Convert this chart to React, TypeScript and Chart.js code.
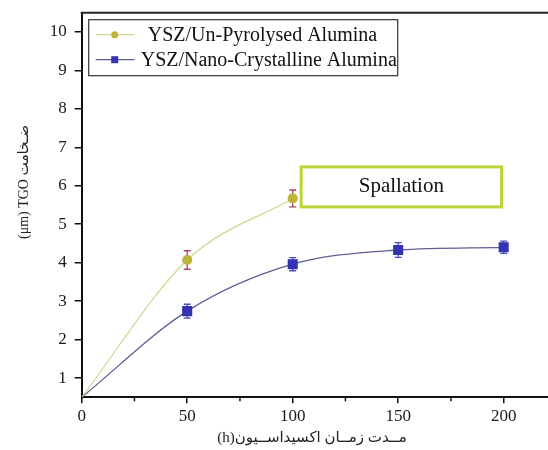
import React, { useEffect, useRef } from 'react';
import { Chart, registerables } from 'chart.js';

Chart.register(...registerables);

// ---- data ----
const hours = [0, 50, 100, 150, 200];
const unPyrolysedTGO = [0.5, 4.07, 5.67];
const unPyrolysedErr = [0, 0.24, 0.22];
const nanoTGO = [0.5, 2.74, 3.96, 4.33, 4.4];
const nanoErr = [0, 0.18, 0.17, 0.19, 0.16];
const seriesLabels = ['YSZ/Un-Pyrolysed Alumina', 'YSZ/Nano-Crystalline Alumina'];
const xTicks = [0, 50, 100, 150, 200];
const xMinorTicks = [25, 75, 125, 175];
const yTicks = [1, 2, 3, 4, 5, 6, 7, 8, 9, 10];
const xTitle = '(h)مــدت زمــان اکسیداســیون';
const yTitle = '(μm) TGO ضـخامت';
const spallationText = 'Spallation';

const SERIF = "'Liberation Serif', 'Times New Roman', serif";
const TITLE_FONT = "'Liberation Serif', 'DejaVu Sans', serif";

const YEL_LINE = '#d3d68f';
const YEL_PT = '#bdb53b';
const YEL_ERR = '#a24a5e';
const BLUE_LINE = '#5e5e96';
const BLUE_PT = '#3434b2';
const BLUE_ERR = '#4c4cba';

const errs = [unPyrolysedErr, nanoErr];
const errColors = [YEL_ERR, BLUE_ERR];

const decorPlugin = {
  id: 'decor',
  beforeDatasetsDraw(chart: any) {
    const ctx = chart.ctx;
    const xs = chart.scales.x;
    const ys = chart.scales.y;
    ctx.save();
    chart.data.datasets.forEach((ds: any, i: number) => {
      const e = errs[i];
      ctx.strokeStyle = errColors[i];
      ctx.lineWidth = 1.3;
      ds.data.forEach((p: any, j: number) => {
        if (!e[j]) return;
        const px = xs.getPixelForValue(p.x);
        const top = ys.getPixelForValue(p.y + e[j]);
        const bot = ys.getPixelForValue(p.y - e[j]);
        ctx.beginPath();
        ctx.moveTo(px, top);
        ctx.lineTo(px, bot);
        ctx.moveTo(px - 3.5, top);
        ctx.lineTo(px + 3.5, top);
        ctx.moveTo(px - 3.5, bot);
        ctx.lineTo(px + 3.5, bot);
        ctx.stroke();
      });
    });
    ctx.restore();
  },
  afterDraw(chart: any) {
    const ctx = chart.ctx;
    const xs = chart.scales.x;
    const ys = chart.scales.y;
    const ca = chart.chartArea;
    ctx.save();
    // top frame line
    ctx.strokeStyle = '#222';
    ctx.lineWidth = 2;
    ctx.beginPath();
    ctx.moveTo(ca.left - 1, ca.top);
    ctx.lineTo(chart.width, ca.top);
    ctx.stroke();
    // minor x ticks
    ctx.lineWidth = 1.5;
    ctx.strokeStyle = '#111';
    xMinorTicks.forEach((v) => {
      const px = xs.getPixelForValue(v);
      ctx.beginPath();
      ctx.moveTo(px, ca.bottom);
      ctx.lineTo(px, ca.bottom + 4);
      ctx.stroke();
    });

    // Spallation annotation box
    const bx0 = xs.getPixelForValue(104);
    const bx1 = xs.getPixelForValue(199);
    const by0 = ys.getPixelForValue(6.49);
    const by1 = ys.getPixelForValue(5.45);
    ctx.fillStyle = '#ffffff';
    ctx.fillRect(bx0, by0, bx1 - bx0, by1 - by0);
    ctx.strokeStyle = '#bdd534';
    ctx.lineWidth = 3;
    ctx.strokeRect(bx0, by0, bx1 - bx0, by1 - by0);
    ctx.fillStyle = '#111';
    ctx.font = `21px ${SERIF}`;
    ctx.textAlign = 'center';
    ctx.textBaseline = 'middle';
    ctx.fillText(spallationText, (bx0 + bx1) / 2, (by0 + by1) / 2);

    // legend
    const lx = ca.left + 7;
    const ly = ca.top + 7;
    ctx.fillStyle = '#fff';
    ctx.fillRect(lx, ly, 309, 56);
    ctx.strokeStyle = '#333';
    ctx.lineWidth = 1.2;
    ctx.strokeRect(lx, ly, 309, 56);
    const items = [
      { y: ly + 15, line: YEL_LINE, pt: YEL_PT, shape: 'circle', tx: lx + 59 },
      { y: ly + 40, line: BLUE_LINE, pt: BLUE_PT, shape: 'rect', tx: lx + 52 },
    ];
    items.forEach((it, i) => {
      ctx.strokeStyle = it.line;
      ctx.lineWidth = 1.2;
      ctx.beginPath();
      ctx.moveTo(lx + 7, it.y);
      ctx.lineTo(lx + 46, it.y);
      ctx.stroke();
      ctx.fillStyle = it.pt;
      if (it.shape === 'circle') {
        ctx.beginPath();
        ctx.arc(lx + 26, it.y, 3.5, 0, Math.PI * 2);
        ctx.fill();
      } else {
        ctx.fillRect(lx + 22.5, it.y - 3.5, 7, 7);
      }
      ctx.fillStyle = '#111';
      ctx.font = `20px ${SERIF}`;
      ctx.textAlign = 'left';
      ctx.textBaseline = 'middle';
      ctx.fillText(seriesLabels[i], it.tx, it.y + 1);
    });

    // axis titles
    ctx.fillStyle = '#222';
    ctx.font = `15px ${TITLE_FONT}`;
    ctx.textAlign = 'center';
    ctx.textBaseline = 'middle';
    ctx.fillText(xTitle, 312, 438);
    ctx.translate(24, 182);
    ctx.rotate(-Math.PI / 2);
    ctx.font = `14px ${TITLE_FONT}`;
    ctx.fillText(yTitle, 0, 0);
    ctx.restore();
  },
};

export default function App() {
  const ref = useRef<HTMLCanvasElement>(null);
  useEffect(() => {
    document.body.style.margin = '0';
    const canvas = ref.current!;
    const chart = new Chart(canvas, {
      type: 'line',
      data: {
        datasets: [
          {
            label: seriesLabels[0],
            data: unPyrolysedTGO.map((v, i) => ({ x: hours[i], y: v })),
            borderColor: YEL_LINE,
            borderWidth: 1.2,
            backgroundColor: YEL_PT,
            pointBackgroundColor: YEL_PT,
            pointBorderColor: YEL_PT,
            pointStyle: 'circle',
            pointRadius: (c: any) => (c.dataIndex === 0 ? 0 : 4.5),
            cubicInterpolationMode: 'monotone',
            fill: false,
          },
          {
            label: seriesLabels[1],
            data: nanoTGO.map((v, i) => ({ x: hours[i], y: v })),
            borderColor: BLUE_LINE,
            borderWidth: 1.3,
            backgroundColor: BLUE_PT,
            pointBackgroundColor: BLUE_PT,
            pointBorderColor: BLUE_PT,
            pointStyle: 'rect',
            pointRadius: (c: any) => (c.dataIndex === 0 ? 0 : 6.2),
            cubicInterpolationMode: 'monotone',
            fill: false,
          },
        ],
      },
      options: {
        animation: false,
        responsive: false,
        devicePixelRatio: 1,
        layout: { autoPadding: false, padding: { top: 12.7, left: 0, right: 0, bottom: 0 } },
        plugins: { legend: { display: false }, tooltip: { enabled: false } },
        scales: {
          x: {
            type: 'linear',
            min: 0,
            max: 221,
            afterBuildTicks: (s: any) => {
              s.ticks = xTicks.map((v) => ({ value: v }));
            },
            afterFit: (s: any) => {
              s.height = 52.7;
              s.paddingLeft = 0;
              s.paddingRight = 0;
            },
            ticks: {
              font: { family: SERIF, size: 17 },
              color: '#1a1a1a',
              padding: 3,
              maxRotation: 0,
            },
            grid: {
              display: true,
              drawOnChartArea: false,
              drawTicks: true,
              tickLength: 6,
              color: '#111',
              lineWidth: 1.5,
            },
            border: { display: true, color: '#111', width: 2 },
          },
          y: {
            type: 'linear',
            min: 0.5,
            max: 10.5,
            afterBuildTicks: (s: any) => {
              s.ticks = yTicks.map((v) => ({ value: v }));
            },
            afterFit: (s: any) => {
              s.width = 81.7;
              s.paddingTop = 0;
              s.paddingBottom = 0;
            },
            ticks: {
              font: { family: SERIF, size: 17 },
              color: '#1a1a1a',
              padding: 8,
            },
            grid: {
              display: true,
              drawOnChartArea: false,
              drawTicks: true,
              tickLength: 7,
              color: '#111',
              lineWidth: 1.5,
            },
            border: { display: true, color: '#111', width: 2 },
          },
        },
      } as any,
      plugins: [decorPlugin],
    });
    return () => chart.destroy();
  }, []);
  return (
    <div style={{ width: 548, height: 450, background: '#fff' }}>
      <canvas ref={ref} width={548} height={450} style={{ display: 'block' }} />
    </div>
  );
}
